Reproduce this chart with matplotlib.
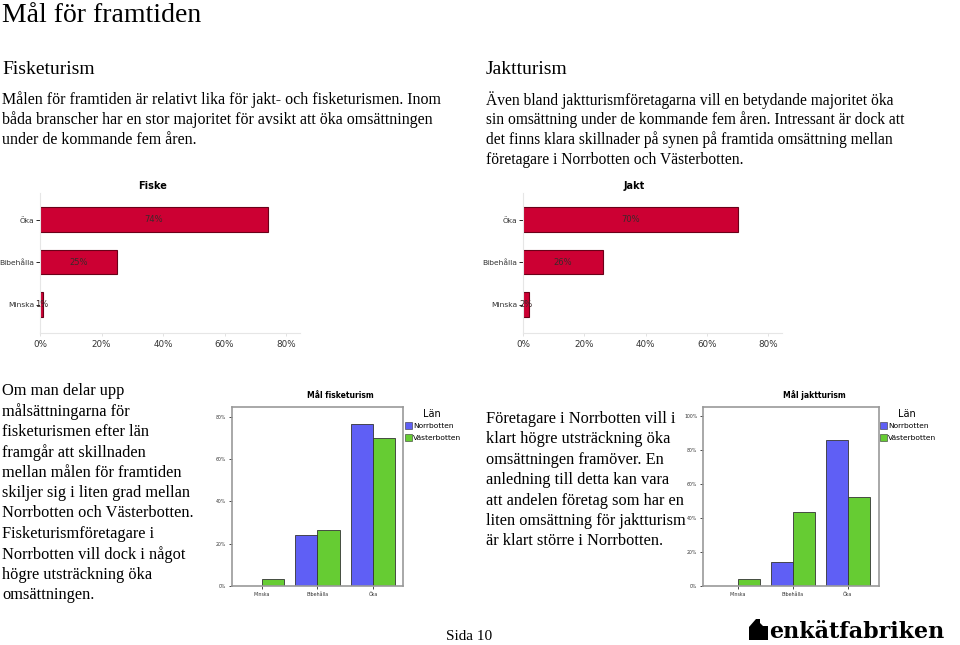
import numpy as np
import matplotlib
matplotlib.use('Agg')
import matplotlib.pyplot as plt
from matplotlib.patches import Polygon, Rectangle

# --- data -------------------------------------------------------------
goal_cats = ['Minska', 'Bibehålla', 'Öka']
fiske_pct = [1, 25, 74]
jakt_pct = [2, 26, 70]

lan_names = ['Norrbotten', 'Västerbotten']
fiske_norr = [0, 23.9, 76.5]
fiske_vast = [3.3, 26.7, 70.2]
jakt_norr = [0, 13.9, 86.1]
jakt_vast = [4.4, 43.5, 52.4]

W, H = 960, 645
SERIF = 'Liberation Serif'
RED = '#cc0033'
BLUE = '#5f5ff5'
GREEN = '#66cc33'


def fx(px):
    return px / W


def fy(py):
    return 1 - py / H


def ax_at(fig, left, top, right, bottom):
    return fig.add_axes([fx(left), fy(bottom), (right - left) / W, (bottom - top) / H])


def ptext(fig, x, y, s, **kw):
    kw.setdefault('family', SERIF)
    kw.setdefault('va', 'center')
    fig.text(fx(x), fy(y), s, **kw)


def hbar_chart(fig, box, title, title_x, vals):
    ax = ax_at(fig, *box)
    y = np.arange(len(goal_cats))
    ax.barh(y, vals, height=0.58, color=RED, edgecolor='#6a0018', linewidth=0.8)
    for yi, v in zip(y, vals):
        ax.text(v / 2, yi, f'{v}%', ha='center', va='center', fontsize=6, color='#3a2a2a')
    ax.set_ylim(-0.67, 2.63)
    ax.set_xlim(0, 84.5)
    ax.set_yticks(y)
    ax.set_yticklabels(goal_cats, fontsize=5.4, color='#333333')
    ax.set_xticks([0, 20, 40, 60, 80])
    ax.set_xticklabels(['0%', '20%', '40%', '60%', '80%'], fontsize=6.3, color='#333333')
    ax.tick_params(axis='y', length=3, width=0.6, pad=1)
    ax.tick_params(axis='x', length=2, width=0.6, pad=3, colors='#dddddd', labelcolor='#333333')
    for s in ['top', 'right']:
        ax.spines[s].set_visible(False)
    for s in ['left', 'bottom']:
        ax.spines[s].set_color('#e6e6e6')
        ax.spines[s].set_linewidth(0.8)
    fig.text(fx(title_x), fy(186), title, ha='center', va='center', fontsize=7,
             fontweight='bold', family='DejaVu Sans')
    return ax


def group_chart(fig, box, title, title_x, norr, vast, ymax, yticks, xlim, leg_x):
    ax = ax_at(fig, *box)
    x = np.arange(len(goal_cats))
    w = 0.4
    ax.bar(x - w / 2, norr, w, color=BLUE, edgecolor='#333333', linewidth=0.6, label=lan_names[0])
    ax.bar(x + w / 2, vast, w, color=GREEN, edgecolor='#333333', linewidth=0.6, label=lan_names[1])
    ax.set_xlim(*xlim)
    ax.set_ylim(0, ymax)
    ax.set_xticks(x)
    ax.set_xticklabels(goal_cats, fontsize=3.4, color='#333333')
    ax.set_yticks(yticks)
    ax.set_yticklabels([f'{t}%' for t in yticks], fontsize=3.3, color='#333333')
    ax.tick_params(length=2, width=0.5, pad=2)
    for s in ax.spines.values():
        s.set_color('#999999')
        s.set_linewidth(1.2)
    fig.text(fx(title_x), fy(395), title, ha='center', va='center', fontsize=5.5,
             fontweight='bold', family='DejaVu Sans')
    fig.text(fx(leg_x + 27), fy(414), 'Län', ha='center', va='center', fontsize=7,
             family='DejaVu Sans')
    for i, (name, col) in enumerate(zip(lan_names, [BLUE, GREEN])):
        yy = 425.5 + i * 12
        fig.patches.append(Rectangle((fx(leg_x), fy(yy + 3.5)), 7 / W, 7 / H,
                                     transform=fig.transFigure, facecolor=col,
                                     edgecolor='#333333', linewidth=0.4))
        fig.text(fx(leg_x + 8), fy(yy), name, ha='left', va='center', fontsize=5.4,
                 family='DejaVu Sans')
    return ax


fig = plt.figure(figsize=(W / 100, H / 100), dpi=100)

# page text
ptext(fig, 2, 16, 'Mål för framtiden', fontsize=20)
ptext(fig, 2, 70, 'Fisketurism', fontsize=14)
left_intro = ['Målen för framtiden är relativt lika för jakt- och fisketurismen. Inom',
              'båda branscher har en stor majoritet för avsikt att öka omsättningen',
              'under de kommande fem åren.']
for i, line in enumerate(left_intro):
    ptext(fig, 2, 100 + i * 20, line, fontsize=11.5)

ptext(fig, 486, 70, 'Jaktturism', fontsize=14)
right_intro = ['Även bland jaktturismföretagarna vill en betydande majoritet öka',
               'sin omsättning under de kommande fem åren. Intressant är dock att',
               'det finns klara skillnader på synen på framtida omsättning mellan',
               'företagare i Norrbotten och Västerbotten.']
for i, line in enumerate(right_intro):
    ptext(fig, 486, 100 + i * 20, line, fontsize=11.2)

left_para = ['Om man delar upp', 'målsättningarna för', 'fisketurismen efter län',
             'framgår att skillnaden', 'mellan målen för framtiden',
             'skiljer sig i liten grad mellan', 'Norrbotten och Västerbotten.',
             'Fisketurismföretagare i', 'Norrbotten vill dock i något',
             'högre utsträckning öka', 'omsättningen.']
for i, line in enumerate(left_para):
    ptext(fig, 2, 391 + i * 20.4, line, fontsize=11.8)

mid_para = ['Företagare i Norrbotten vill i', 'klart högre utsträckning öka',
            'omsättningen framöver. En', 'anledning till detta kan vara',
            'att andelen företag som har en', 'liten omsättning för jaktturism',
            'är klart större i Norrbotten.']
for i, line in enumerate(mid_para):
    ptext(fig, 486, 419 + i * 20.4, line, fontsize=11.8)

# charts
hbar_chart(fig, (40, 193, 300, 333), 'Fiske', 153, fiske_pct)
hbar_chart(fig, (523, 193, 782, 333), 'Jakt', 634, jakt_pct)

group_chart(fig, (232, 407, 403, 586), 'Mål fisketurism', 340, fiske_norr, fiske_vast,
            84.7, [0, 20, 40, 60, 80], (-0.53, 2.54), 405)
group_chart(fig, (703, 407, 879, 586), 'Mål jaktturism', 814.5, jakt_norr, jakt_vast,
            105.3, [0, 20, 40, 60, 80, 100], (-0.64, 2.57), 880)

# footer
ptext(fig, 446, 637, 'Sida 10', fontsize=11)
house = [(749, 640), (749, 627), (756, 619), (760, 619), (760, 623), (763, 626),
         (768, 626), (768, 640)]
fig.patches.append(Polygon([(fx(a), fy(b)) for a, b in house], closed=True,
                           transform=fig.transFigure, facecolor='black'))
ptext(fig, 769, 632, 'enkätfabriken', fontsize=16, fontweight='bold', family='DejaVu Serif')

fig.savefig('out.png', dpi=100)
